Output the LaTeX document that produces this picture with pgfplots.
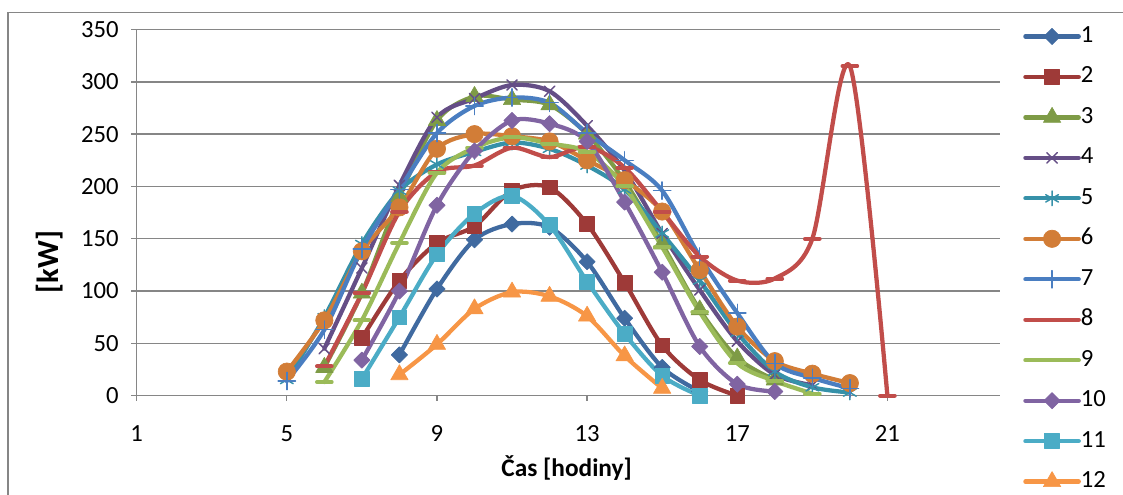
\documentclass[border=0pt]{standalone}
\usepackage{fontspec}
\setmainfont{Carlito}
\usepackage{pgfplots}
\pgfplotsset{compat=1.18}
\definecolor{c1}{RGB}{64,106,160}
\definecolor{c2}{RGB}{158,58,56}
\definecolor{c3}{RGB}{126,155,70}
\definecolor{c4}{RGB}{101,78,134}
\definecolor{c5}{RGB}{54,145,169}
\definecolor{c6}{RGB}{210,125,55}
\definecolor{c7}{RGB}{74,126,193}
\definecolor{c8}{RGB}{193,77,74}
\definecolor{c9}{RGB}{155,187,89}
\definecolor{c10}{RGB}{128,100,162}
\definecolor{c11}{RGB}{75,172,198}
\definecolor{c12}{RGB}{247,150,70}
\definecolor{gridgray}{RGB}{134,134,134}
\begin{document}
\begin{tikzpicture}[x=0.75pt,y=0.75pt]
\useasboundingbox (0,0) rectangle (1123,495);
\draw[gridgray, line width=0.9pt] (8,0) -- (8,482.3) -- (1123,482.3);
\begin{axis}[
  at={(102.5pt,74.5pt)}, anchor=south west,
  scale only axis, width=647.5pt, height=274.6pt,
  xmin=1, xmax=24, ymin=0, ymax=350,
  xtick={1,5,9,13,17,21}, ytick={0,50,...,350},
  axis x line*=bottom, axis y line*=left,
  axis line style={gridgray, line width=1pt},
  ymajorgrids, grid style={gridgray, line width=1.1pt},
  tick align=outside, major tick length=4pt,
  tick style={gridgray, line width=1pt},
  clip=false,
  /pgf/number format/assume math mode=true,
  ticklabel style={font=\fontsize{18.5}{20}\selectfont, text=black},
  yticklabel style={xshift=-6pt},
  xticklabel style={yshift=-15pt},
  xlabel={\bfseries Čas [hodiny]},
  xlabel style={font=\fontsize{19}{22}\selectfont, at={(axis description cs:0.498,-0.197)}, anchor=center},
  ylabel={\bfseries [kW]},
  ylabel style={font=\fontsize{23}{26}\selectfont, at={(axis description cs:-0.1004,0.365)}, anchor=center},
  legend style={draw=none, fill=none, at={(rel axis cs:1.022,1.020)}, anchor=north west,
    font=\fontsize{18.5}{20}\selectfont, row sep=13.35pt,
    nodes={inner sep=0pt, text height=13pt, text depth=4pt, anchor=west}},
  legend cell align=left,
  legend image code/.code={\draw[mark repeat=2,mark phase=2,#1] plot coordinates {(0pt,0pt) (20pt,0pt) (40pt,0pt)};},
  every axis plot/.append style={line width=3.2pt, line cap=round, line join=round},
]
\addplot[c1, smooth, mark=square*, mark size=4.3pt, mark options={rotate=45, fill=c1, draw=c1, line width=0.5pt}] table {
8 39
9 102
10 149
11 164
12 161
13 128
14 74
15 27
16 4
};
\addlegendentry{1}
\addplot[c2, smooth, mark=square*, mark size=5.5pt, mark options={fill=c2, draw=c2, line width=0.5pt}] table {
7 55
8 110
9 146
10 162
11 196
12 199
13 164
14 108
15 48
16 15
17 0
};
\addlegendentry{2}
\addplot[c3, smooth, mark=triangle*, mark size=7.5pt, mark options={fill=c3, draw=c3, line width=0.5pt}] table {
6 27
7 98
8 190
9 263
10 286
11 283
12 278
13 250
14 205
15 145
16 82
17 36
18 15
};
\addlegendentry{3}
\addplot[c4, smooth, mark=x, mark size=5.5pt, mark options={draw=c4, line width=1.1pt}] table {
6 45
7 122
8 201
9 266
10 284
11 297
12 291
13 258
14 215
15 155
16 101
17 52
18 20
19 10
};
\addlegendentry{4}
\addplot[c5, smooth, mark=asterisk, mark size=5.5pt, mark options={draw=c5, line width=1.1pt}] table {
5 15
6 75
7 145
8 196
9 221
10 233
11 242
12 236
13 220
14 197
15 155
16 110
17 60
18 23
19 8
20 3
};
\addlegendentry{5}
\addplot[c6, smooth, mark=*, mark size=6.5pt, mark options={fill=c6, draw=c6, line width=0.5pt}] table {
5 23
6 72
7 138
8 180
9 236
10 250
11 248
12 243
13 225
14 206
15 176
16 120
17 66
18 33
19 21
20 12
};
\addlegendentry{6}
\addplot[c7, smooth, mark=+, mark size=6.5pt, mark options={draw=c7, line width=1.1pt}] table {
5 14
6 63
7 140
8 197
9 251
10 277
11 285
12 280
13 251
14 225
15 196
16 133
17 79
18 31
19 17
20 7
};
\addlegendentry{7}
\addplot[c8, smooth, mark=-, mark size=5.5pt, mark options={draw=c8, line width=3pt}] table {
6 28
7 98
8 176
9 214
10 220
11 237
12 228
13 238
14 218
15 176
16 133
17 110
18 112
19 150
20 315
21 0
};
\addlegendentry{8}
\addplot[c9, smooth, mark=-, mark size=5.5pt, mark options={draw=c9, line width=3pt}] table {
6 13
7 72
8 146
9 213
10 237
11 247
12 241
13 233
14 200
15 142
16 80
17 31
18 14
19 2
};
\addlegendentry{9}
\addplot[c10, smooth, mark=square*, mark size=4.3pt, mark options={rotate=45, fill=c10, draw=c10, line width=0.5pt}] table {
7 34
8 100
9 182
10 234
11 263
12 260
13 243
14 185
15 118
16 47
17 11
18 4
};
\addlegendentry{10}
\addplot[c11, smooth, mark=square*, mark size=5.5pt, mark options={fill=c11, draw=c11, line width=0.5pt}] table {
7 16
8 75
9 135
10 174
11 191
12 163
13 109
14 59
15 19
16 0
};
\addlegendentry{11}
\addplot[c12, smooth, mark=triangle*, mark size=7.5pt, mark options={fill=c12, draw=c12, line width=0.5pt}] table {
8 20
9 49
10 83
11 99
12 95
13 76
14 38
15 7
};
\addlegendentry{12}
\end{axis}
\end{tikzpicture}
\end{document}
